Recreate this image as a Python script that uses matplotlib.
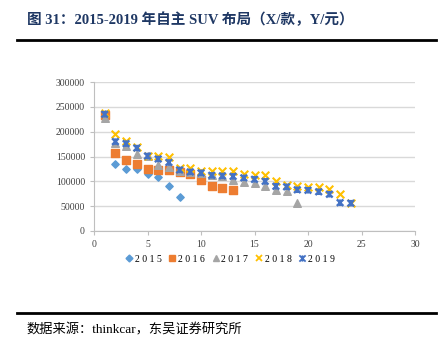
import numpy as np
import matplotlib.pyplot as plt
from matplotlib.path import Path
from matplotlib.lines import Line2D

# model rank (x) and price (y) per year
x2015 = [1, 2, 3, 4, 5, 6, 7, 8]
y2015 = [235000, 134000, 125000, 124000, 115000, 108000, 90000, 69000]

x2016 = [1, 2, 3, 4, 5, 6, 7, 8, 9, 10, 11, 12, 13]
y2016 = [233000, 157000, 143000, 134000, 125000, 123000, 123000, 118000,
         115000, 103000, 91000, 86000, 82000]

x2017 = list(range(1, 20))
y2017 = [228000, 178000, 172000, 155000, 151000, 133000, 129000, 121000,
         118000, 116000, 112000, 110000, 102000, 98000, 96000, 90000,
         83000, 80000, 56000]

x2018 = list(range(1, 25))
y2018 = [238000, 196000, 182000, 170000, 152000, 151000, 148000, 127000,
         126000, 121000, 121000, 120000, 120000, 115000, 112000, 112000,
         101000, 92000, 91000, 88000, 88000, 84000, 75000, 57000]

x2019 = list(range(1, 25))
y2019 = [235000, 180000, 176000, 167000, 151000, 145000, 138000, 123000,
         119000, 117000, 112000, 111000, 110000, 107000, 104000, 100000,
         90000, 89000, 83000, 82000, 79000, 74000, 57000, 56000]

years = ['2015', '2016', '2017', '2018', '2019']

# star marker used by the 2019 series (x with a vertical stroke)
star = Path([(-1, 1), (1, -1), (-1, -1), (1, 1), (0, 1), (0, -1)],
            [Path.MOVETO, Path.LINETO, Path.MOVETO, Path.LINETO,
             Path.MOVETO, Path.LINETO])

serif = ['Liberation Serif', 'Noto Sans CJK SC']

fig = plt.figure(figsize=(4.44, 3.54), dpi=100)
ax = fig.add_axes([94/444, 1-231/354, (415-94)/444, (231-82)/354])

ax.scatter(x2015, y2015, marker='D', s=14, color='#5B9BD5', zorder=3)
ax.scatter(x2016, y2016, marker='s', s=30, color='#ED7D31', zorder=3)
ax.scatter(x2017, y2017, marker='^', s=30, color='#A5A5A5', zorder=3)
ax.scatter(x2018, y2018, marker='x', s=30, color='#FFC000', linewidths=1.5, zorder=4)
ax.scatter(x2019, y2019, marker=star, s=22, facecolors='none',
           edgecolors='#4472C4', linewidths=1.7, zorder=5)

ax.set_xlim(0, 30)
ax.set_ylim(0, 300000)
ax.set_xticks(np.arange(0, 31, 5))
ax.set_yticks(np.arange(0, 300001, 50000))
ax.grid(axis='y', color='#D9D9D9', linewidth=1)
ax.set_axisbelow(True)
for s in ['top', 'right']:
    ax.spines[s].set_visible(False)
for s in ['left', 'bottom']:
    ax.spines[s].set_color('#BFBFBF')
ax.tick_params(colors='#BFBFBF', labelcolor='#404040', labelsize=7, length=3)
for lab in ax.get_xticklabels() + ax.get_yticklabels():
    lab.set_family('Liberation Serif')

handles = [
    Line2D([], [], ls='', marker='D', ms=3.5, color='#5B9BD5'),
    Line2D([], [], ls='', marker='s', ms=5, color='#ED7D31'),
    Line2D([], [], ls='', marker='^', ms=5, color='#A5A5A5'),
    Line2D([], [], ls='', marker='x', ms=5, mew=1.3, color='#FFC000'),
    Line2D([], [], ls='', marker=star, ms=4.5, mew=1.3, mfc='none', color='#4472C4'),
]
fig.legend(handles, [' '.join(y) for y in years], loc='center',
           bbox_to_anchor=(229/444, 1-259/354), ncol=5, frameon=False,
           prop={'family': 'Liberation Serif', 'size': 7},
           handletextpad=0.0, columnspacing=0.5, handlelength=1.2)

fig.text(27/444, 1-20/354, '图 31：2015-2019 年自主 SUV 布局（X/款，Y/元）',
         family=serif, fontsize=10.5, fontweight='bold', color='#1F3864',
         va='center', ha='left')
fig.add_artist(Line2D([17/444, 436/444], [1-40/354, 1-40/354], color='black', lw=2))
fig.add_artist(Line2D([17/444, 436/444], [1-313/354, 1-313/354], color='black', lw=2))
fig.text(26/444, 1-330/354, '数据来源：thinkcar，东吴证券研究所',
         family=serif, fontsize=9.5, color='black', va='center', ha='left')

fig.savefig('out.png', dpi=100)
